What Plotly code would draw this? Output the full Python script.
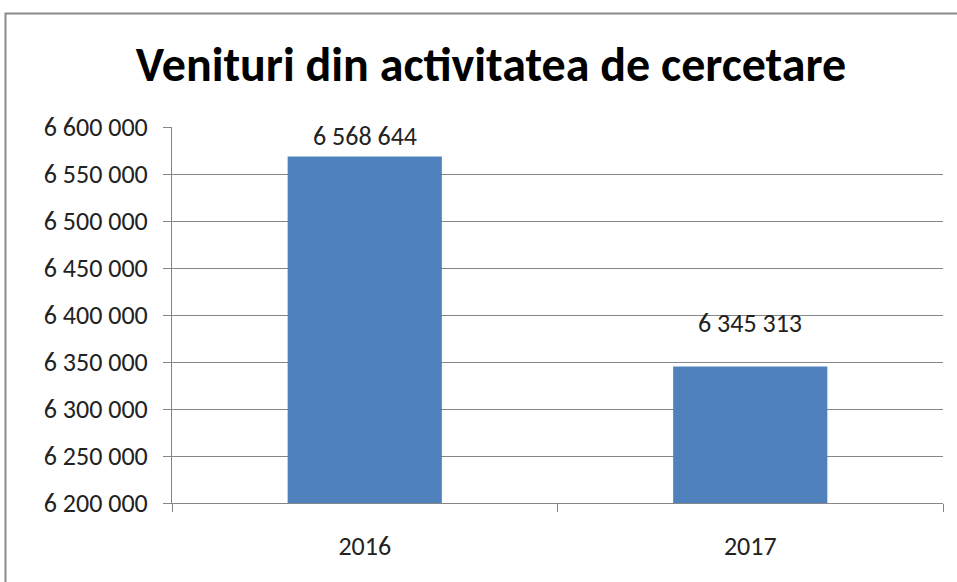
import plotly.graph_objects as go

categories = ["2016", "2017"]
values = [6568644, 6345313]
y_ticks = [6200000, 6250000, 6300000, 6350000, 6400000, 6450000, 6500000, 6550000, 6600000]

W, H = 957, 582
L, R, T, B = 172, 14, 127, 79
pw, ph = W - L - R, H - T - B

def px_x(p):
    return (p - L) / pw

def px_y(p):
    return (H - B - p) / ph

main_font = "Carlito, Calibri, Open Sans, sans-serif"
text_color = "#222222"
grid_color = "#868686"
fsize = 26

fig = go.Figure(go.Bar(
    x=categories, y=values,
    marker=dict(color="#4F81BD", line=dict(width=0)),
    hoverinfo="x+y",
))

# data labels above the bars (x given as category index on the category axis)
label_shifts = [20, 43]
for i, (val, shift) in enumerate(zip(values, label_shifts)):
    fig.add_annotation(
        x=i, y=val, xref="x", yref="y",
        text=f"{val:,d}".replace(",", " "),
        showarrow=False, yanchor="middle", yshift=shift,
        font=dict(family=main_font, size=fsize, color=text_color),
    )

fig.update_layout(
    width=W, height=H,
    margin=dict(l=L, r=R, t=T, b=B),
    paper_bgcolor="white", plot_bgcolor="white",
    separators=", ",
    bargap=0.6,
    showlegend=False,
    title=dict(text="<b>Venituri din activitatea de cercetare</b>",
               x=491 / W, xref="container", xanchor="center",
               y=1 - 64 / H, yref="container", yanchor="middle",
               font=dict(family=main_font, size=48, color="black")),
    font=dict(family=main_font, size=fsize, color=text_color),
)

fig.update_yaxes(
    range=[6200000, 6600000], tickvals=y_ticks, tickformat=",d",
    showgrid=True, gridcolor=grid_color, gridwidth=1,
    showline=True, linecolor=grid_color, linewidth=1,
    ticks="outside", ticklen=8, tickcolor=grid_color,
    ticklabelstandoff=10, zeroline=False,
    tickfont=dict(family=main_font, size=fsize, color=text_color),
)
fig.update_xaxes(
    type="category", range=[-0.5, len(categories) - 0.5], autorange=False,
    showline=True, linecolor=grid_color, linewidth=1,
    ticks="outside", ticklen=8, tickcolor=grid_color, tickson="boundaries",
    ticklabelstandoff=20, showgrid=False, tickangle=0,
    tickfont=dict(family=main_font, size=fsize, color=text_color),
)

fig.add_shape(type="rect", xref="paper", yref="paper",
              x0=px_x(5.5), x1=px_x(W + 20), y0=px_y(13.5), y1=px_y(H + 20),
              line=dict(color="#8a8a8a", width=2), layer="above")

fig.write_html("out.html", config={"displayModeBar": False},
               post_script="document.body.style.margin='0';document.body.style.overflow='hidden';")
